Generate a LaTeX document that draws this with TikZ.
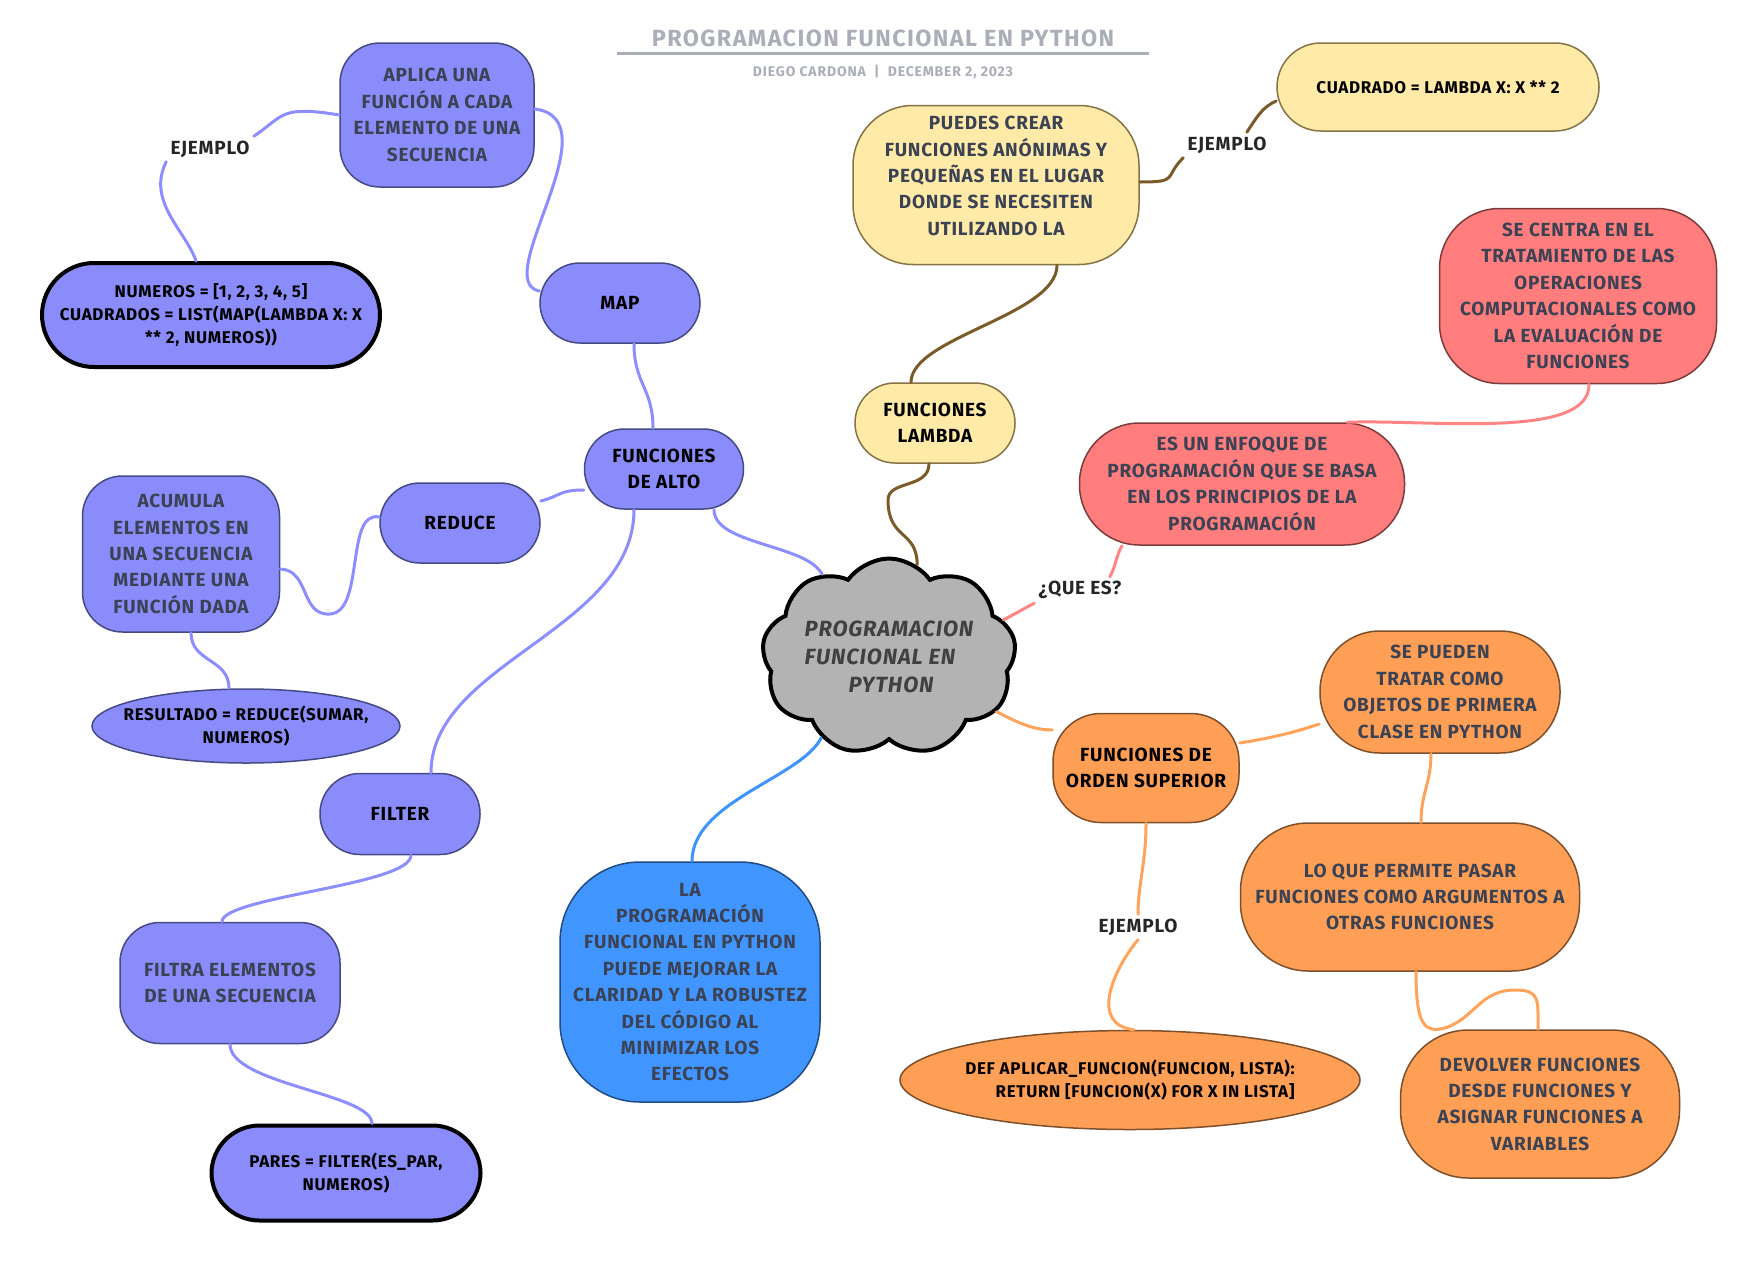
\documentclass[tikz,border=0pt]{standalone}
\usepackage{fontspec}
\setmainfont{Fira Sans}[LetterSpace=4]
\usetikzlibrary{shapes.geometric,shapes.symbols}

\definecolor{lilafill}{HTML}{898CFA}
\definecolor{lilaedge}{HTML}{454A85}
\definecolor{lilaline}{HTML}{8C8EFF}
\definecolor{yelfill}{HTML}{FFEAA7}
\definecolor{yeledge}{HTML}{857345}
\definecolor{brownline}{HTML}{7B5A2A}
\definecolor{redfill}{HTML}{FF7D7D}
\definecolor{rededge}{HTML}{7D3A3A}
\definecolor{redline}{HTML}{FF8585}
\definecolor{orfill}{HTML}{FF9E55}
\definecolor{oredge}{HTML}{7D4F2A}
\definecolor{orline}{HTML}{FFA35A}
\definecolor{bluefill}{HTML}{4195FF}
\definecolor{blueedge}{HTML}{204C85}
\definecolor{blueline}{HTML}{3D94FF}
\definecolor{cloudfill}{HTML}{B3B3B3}
\definecolor{slate}{HTML}{3A4254}
\definecolor{titlegray}{HTML}{A9AEB8}

\begin{document}
\begin{tikzpicture}[x=0.5pt,y=-0.5pt,
    every node/.style={font=\bfseries\fontsize{9.5}{13.2}\selectfont, align=center},
    topic/.style={draw, line width=0.75pt, rounded corners=20pt, inner sep=0pt, text=slate},
    dark/.style={text=black},
    code/.style={font=\bfseries\fontsize{8.5}{11.5}\selectfont, text=black},
    heavy/.style={draw=black, line width=2pt},
    lila/.style={topic, fill=lilafill, draw=lilaedge},
    yel/.style={topic, fill=yelfill, draw=yeledge},
    salmon/.style={topic, fill=redfill, draw=rededge},
    orange/.style={topic, fill=orfill, draw=oredge},
    azul/.style={topic, fill=bluefill, draw=blueedge},
    tag/.style={font=\bfseries\fontsize{9.5}{11}\selectfont, text=black!85, inner sep=2pt},
    link/.style={line width=1.5pt, line cap=round}]
  \useasboundingbox (0,0) rectangle (1760,1285);

  % Title
  \node[text=titlegray, font=\bfseries\fontsize{11.7}{14}\selectfont\addfontfeature{LetterSpace=6}] (title) at (883,38) {PROGRAMACION FUNCIONAL EN PYTHON};
  \draw[titlegray, line width=1.5pt] (617,53) -- (1149,53);
  \node[text=titlegray, font=\bfseries\fontsize{7}{8}\selectfont\addfontfeature{LetterSpace=6}] (author) at (883,72) {DIEGO CARDONA \ | \ DECEMBER 2, 2023};

  % Central cloud
  \node[cloud, cloud puffs=9, cloud puff arc=110, aspect=1.45, draw=black, line width=2pt, fill=cloudfill,
        minimum width=127pt, minimum height=85pt, inner sep=0pt, align=left, text=black!75,
        font=\bfseries\itshape\fontsize{11}{14}\selectfont] (cloud) at (889,657)
        {PROGRAMACION\\FUNCIONAL EN\\\hspace*{22pt}PYTHON};

  % Higher order functions branch (purple)
  \node[lila, dark, minimum width=79.5pt, minimum height=40pt] (alto) at (664,469) {FUNCIONES\\DE ALTO};
  \node[lila, dark, minimum width=80pt, minimum height=40pt] (map) at (620,303) {MAP};
  \node[lila, minimum width=97pt, minimum height=72pt] (aplica) at (437,115) {APLICA UNA\\FUNCIÓN A CADA\\ELEMENTO DE UNA\\SECUENCIA};
  \node[lila, heavy, code, minimum width=169pt, minimum height=52pt, rounded corners=26pt] (numeros) at (211,315)
        {NUMEROS = [1, 2, 3, 4, 5]\\CUADRADOS = LIST(MAP(LAMBDA X: X\\** 2, NUMEROS))};
  \node[tag] (ej1) at (210,149) {EJEMPLO};
  \node[lila, dark, minimum width=80pt, minimum height=40pt] (reduce) at (460,523) {REDUCE};
  \node[lila, minimum width=98.5pt, minimum height=78pt] (acumula) at (181,554) {ACUMULA\\ELEMENTOS EN\\UNA SECUENCIA\\MEDIANTE UNA\\FUNCIÓN DADA};
  \node[ellipse, draw=lilaedge, fill=lilafill, line width=0.75pt, code, inner xsep=-18pt, inner ysep=0pt,
        minimum width=154pt, minimum height=37pt] (resultado) at (246,726) {RESULTADO = REDUCE(SUMAR,\\NUMEROS)};
  \node[lila, dark, minimum width=80pt, minimum height=40.5pt] (filter) at (400,814) {FILTER};
  \node[lila, minimum width=110pt, minimum height=60.5pt] (filtra) at (230,983) {FILTRA ELEMENTOS\\DE UNA SECUENCIA};
  \node[lila, heavy, code, minimum width=134.5pt, minimum height=47.5pt, rounded corners=24pt] (pares) at (346,1173)
        {PARES = FILTER(ES\_PAR,\\NUMEROS)};

  % Lambda branch (yellow)
  \node[yel, dark, minimum width=80pt, minimum height=40pt] (lambda) at (935,423) {FUNCIONES\\LAMBDA};
  \node[yel, minimum width=143pt, minimum height=79.5pt, rounded corners=30pt] (puedes) at (996,185)
        {PUEDES CREAR\\FUNCIONES ANÓNIMAS Y\\PEQUEÑAS EN EL LUGAR\\DONDE SE NECESITEN\\UTILIZANDO LA\\[-4pt]};
  \node[yel, code, minimum width=161pt, minimum height=44pt, rounded corners=22pt] (cuadrado) at (1438,87) {CUADRADO = LAMBDA X: X ** 2};
  \node[tag] (ej2) at (1227,145) {EJEMPLO};

  % Definition branch (salmon)
  \node[salmon, minimum width=162.5pt, minimum height=61pt, rounded corners=30pt] (enfoque) at (1242,484)
        {ES UN ENFOQUE DE\\PROGRAMACIÓN QUE SE BASA\\EN LOS PRINCIPIOS DE LA\\PROGRAMACIÓN};
  \node[salmon, minimum width=138.5pt, minimum height=87.5pt, rounded corners=30pt] (centra) at (1578,296)
        {SE CENTRA EN EL\\TRATAMIENTO DE LAS\\OPERACIONES\\COMPUTACIONALES COMO\\LA EVALUACIÓN DE\\FUNCIONES};
  \node[tag] (quees) at (1080,590) {¿QUE ES?};

  % Higher order branch (orange)
  \node[orange, dark, minimum width=93pt, minimum height=54.5pt, rounded corners=24pt] (orden) at (1146,768) {FUNCIONES DE\\ORDEN SUPERIOR};
  \node[orange, minimum width=120pt, minimum height=61pt, rounded corners=30pt] (tratar) at (1440,692)
        {SE PUEDEN\\TRATAR COMO\\OBJETOS DE PRIMERA\\CLASE EN PYTHON};
  \node[orange, minimum width=169.5pt, minimum height=74pt, rounded corners=34pt] (permite) at (1410,897)
        {LO QUE PERMITE PASAR\\FUNCIONES COMO ARGUMENTOS A\\OTRAS FUNCIONES};
  \node[orange, minimum width=139.5pt, minimum height=74pt, rounded corners=34pt] (devolver) at (1540,1104)
        {DEVOLVER FUNCIONES\\DESDE FUNCIONES Y\\ASIGNAR FUNCIONES A\\VARIABLES};
  \node[ellipse, draw=oredge, fill=orfill, line width=0.75pt, code, align=right, inner xsep=-14pt, inner ysep=0pt,
        minimum width=230pt, minimum height=49.5pt] (aplicar) at (1130,1080)
        {DEF APLICAR\_FUNCION(FUNCION, LISTA):\\RETURN [FUNCION(X) FOR X IN LISTA]};
  \node[tag] (ej3) at (1138,927) {EJEMPLO};

  % Benefit (blue)
  \node[azul, minimum width=130pt, minimum height=120pt, rounded corners=40pt] (mejorar) at (690,982)
        {LA\\PROGRAMACIÓN\\FUNCIONAL EN PYTHON\\PUEDE MEJORAR LA\\CLARIDAD Y LA ROBUSTEZ\\DEL CÓDIGO AL\\MINIMIZAR LOS\\EFECTOS};

  % Purple connectors
  \draw[link, lilaline] (cloud.129) .. controls +(-15,-30) and +(0,35) .. ([xshift=25pt]alto.south);
  \draw[link, lilaline] ([xshift=-5.5pt]alto.north) .. controls +(0,-40) and +(0,40) .. ([xshift=7pt]map.south);
  \draw[link, lilaline] ([yshift=6pt]map.west) .. controls +(-50,-10) and +(80,10) .. ([yshift=3pt]aplica.east);
  \draw[link, lilaline] (aplica.west) .. controls +(-60,-10) and +(30,-20) .. (ej1.north east);
  \draw[link, lilaline] (ej1.south west) .. controls +(-20,40) and +(-10,-30) .. ([xshift=-7.5pt]numeros.north);
  \draw[link, lilaline] ([yshift=-10.5pt]alto.west) .. controls +(-25,0) and +(20,-5) .. ([yshift=11pt]reduce.east);
  \draw[link, lilaline] ([yshift=3pt]reduce.west) .. controls (345,510) and (365,612) .. (330,614)
        .. controls (300,616) and (310,570) .. ([yshift=-7.5pt]acumula.east);
  \draw[link, lilaline] ([xshift=5pt]acumula.south) .. controls +(0,30) and +(0,-30) .. ([xshift=-8.5pt]resultado.north);
  \draw[link, lilaline] ([xshift=-15pt]alto.south) .. controls +(0,120) and +(0,-110) .. ([xshift=15.5pt]filter.north);
  \draw[link, lilaline] ([xshift=5.5pt]filter.south) .. controls +(0,30) and +(0,-25) .. ([xshift=-4pt]filtra.north);
  \draw[link, lilaline] (filtra.south) .. controls +(0,40) and +(0,-30) .. ([xshift=13pt]pares.north);

  % Brown connectors
  \draw[link, brownline] ([xshift=-3pt]lambda.south) .. controls +(0,25) and +(0,-20) .. (888,500)
        .. controls +(0,40) and +(0,-35) .. (cloud.73);
  \draw[link, brownline] ([xshift=-12pt]lambda.north) .. controls +(0,-45) and +(0,50) .. ([xshift=30.5pt]puedes.south);
  \draw[link, brownline] ([yshift=1.5pt]puedes.east) .. controls +(40,0) and +(-20,20) .. (ej2.south west);
  \draw[link, brownline] ([xshift=-12pt]ej2.north east) .. controls +(10,-15) and +(-14,6) .. ([yshift=-7pt]cuadrado.west);

  % Salmon connectors
  \draw[link, redline] (cloud.18) .. controls +(10,-5) and +(-10,5) .. (quees.south west);
  \draw[link, redline] ([xshift=-8pt]quees.north east) .. controls +(6,-10) and +(-6,10) .. ([xshift=-60pt]enfoque.south);
  \draw[link, redline] ([xshift=52.5pt]enfoque.north) .. controls +(83,-3) and +(1,56) .. ([xshift=5.5pt]centra.south);

  % Orange connectors
  \draw[link, orline] (cloud.-27) .. controls +(20,10) and +(-20,0) .. ([yshift=19pt]orden.west);
  \draw[link, orline] ([yshift=12.5pt]orden.east) .. controls +(30,-5) and +(-30,10) .. ([yshift=-16pt]tratar.west);
  \draw[link, orline] ([xshift=-4.5pt]tratar.south) .. controls +(0,30) and +(0,-30) .. ([xshift=5.5pt]permite.north);
  \draw[link, orline] ([xshift=3pt]permite.south) .. controls +(0,55) and +(-20,5) .. (1445,1028)
        .. controls +(30,-10) and +(-35,0) .. (1515,990)
        .. controls +(25,0) and +(0,-30) .. ([xshift=-1pt]devolver.north);
  \draw[link, orline] (orden.south) .. controls +(0,40) and +(0,-30) .. (ej3.north);
  \draw[link, orline] (ej3.south) .. controls +(-25,30) and +(-45,-5) .. ([xshift=2pt]aplicar.north);

  % Blue connector
  \draw[link, blueline] (cloud.-130) .. controls +(-20,40) and +(0,-60) .. ([xshift=1pt]mejorar.north);
\end{tikzpicture}
\end{document}
